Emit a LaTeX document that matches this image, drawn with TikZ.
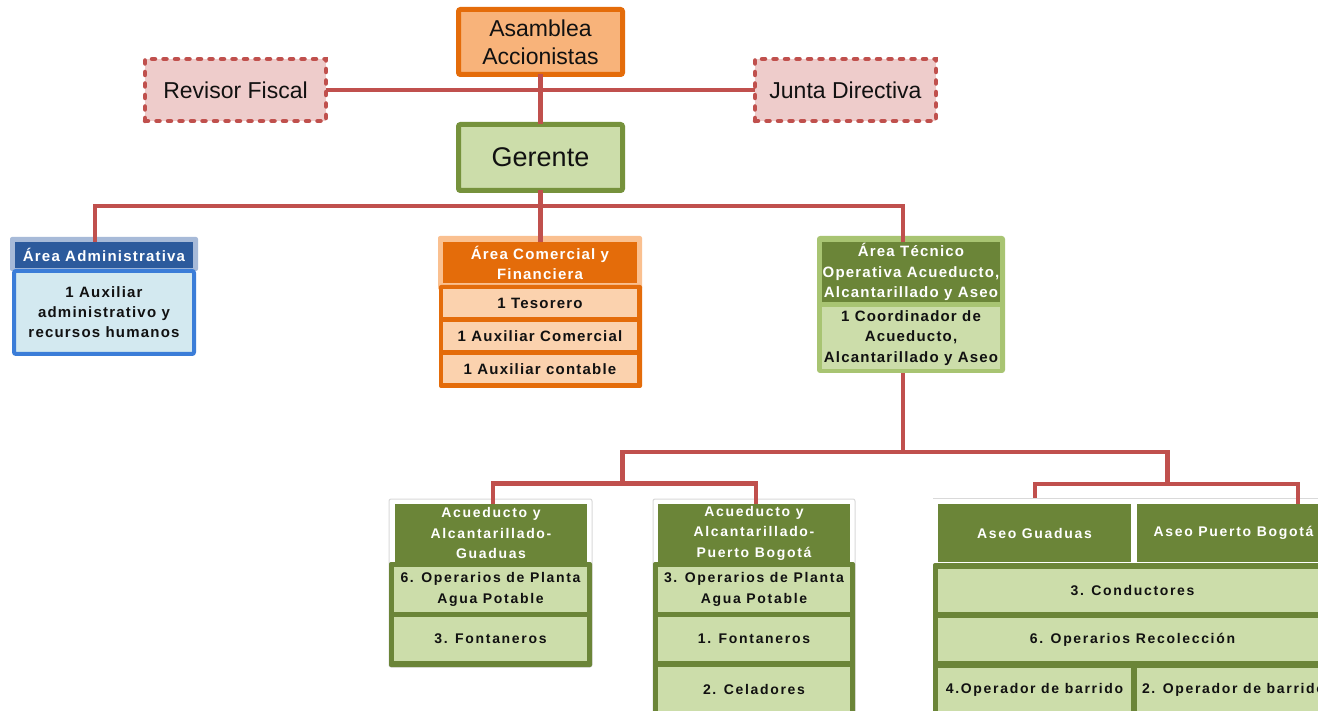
\documentclass[tikz,border=0pt]{standalone}
\usepackage{fontspec}
\setmainfont{Liberation Sans}
\newfontfamily\lsA{Liberation Sans}[LetterSpace=8]
\newfontfamily\lsB{Liberation Sans}[LetterSpace=12]
\definecolor{redln}{HTML}{C0504D}
\definecolor{orgD}{HTML}{E46C0A}
\definecolor{orgF}{HTML}{F8B37A}
\definecolor{orgL}{HTML}{FAC090}
\definecolor{orgC}{HTML}{FBD2AE}
\definecolor{pinkF}{HTML}{EECCCB}
\definecolor{grnD}{HTML}{6B8538}
\definecolor{grnB}{HTML}{76923C}
\definecolor{grnF}{HTML}{CCDDAA}
\definecolor{grnL}{HTML}{A8C472}
\definecolor{bluH}{HTML}{2C5A9C}
\definecolor{bluL}{HTML}{A7BAD8}
\definecolor{bluB}{HTML}{3B7DD8}
\definecolor{bluF}{HTML}{D3E9F0}
\definecolor{grayF}{HTML}{D9D9D9}
\definecolor{txt}{HTML}{111111}
\tikzset{
  bx/.style={inner sep=0pt, outer sep=0pt, align=center, text=txt},
  toptxt/.style={bx, font=\fontsize{23}{28}\selectfont},
  midtxt/.style={bx, font=\lsA\bfseries\fontsize{15}{20}\selectfont},
  midhdr/.style={midtxt, text=white},
  lowtxt/.style={bx, font=\lsB\bfseries\fontsize{14}{20.5}\selectfont},
  lowhdr/.style={lowtxt, text=white},
  redline/.style={draw=redln, line width=4.5pt, line join=miter},
  dotbox/.style={toptxt, draw=redln, fill=pinkF, line width=4.5pt, dash pattern=on 3pt off 8.5pt, line cap=round, minimum width=181, minimum height=62},
  solbox/.style={toptxt, line width=5pt, rounded corners=2pt, minimum width=164},
  gcell/.style={lowtxt, fill=grnF},
  ocell/.style={midtxt, fill=orgC, minimum width=194, minimum height=28},
}
\begin{document}
\begin{tikzpicture}[x=1pt,y=-1pt]
\useasboundingbox (0,0) rectangle (1318,711);
\clip (0,0) rectangle (1318,711);
\fill[white] (0,0) rectangle (1318,711);

% ---------- top level ----------
\node[solbox, draw=orgD, fill=orgF, minimum height=65] (asam) at (540.5,42) {Asamblea\\Accionistas};
\node[solbox, draw=grnB, fill=grnF, minimum height=66, font=\fontsize{27}{30}\selectfont] (ger) at (540.5,157.5) {Gerente};
\node[dotbox] (rev) at (235.5,90) {Revisor Fiscal};
\node[dotbox] (jun) at (845.5,90) {Junta Directiva};

% ---------- Area Administrativa ----------
\fill[bluL, rounded corners=2pt] (10,237) rectangle (198,271);
\node[midhdr, fill=bluH, minimum width=178, minimum height=26] (adh) at (104,255) {Área Administrativa};
\node[midtxt, draw=bluB, fill=bluF, line width=4pt, rounded corners=2pt, minimum width=180, minimum height=83] (adb) at (104,312.5) {1 Auxiliar\\administrativo y\\recursos humanos};

% ---------- Area Comercial ----------
\fill[orgL, rounded corners=2pt] (438,236) rectangle (642,290);
\node[midhdr, fill=orgD, minimum width=194, minimum height=41] (cmh) at (540,262.5) {Área Comercial y\\Financiera};
\fill[orgD, rounded corners=2pt] (439,285) rectangle (642,388);
\node[ocell] (cm1) at (540,303) {1 Tesorero};
\node[ocell] (cm2) at (540,336) {1 Auxiliar Comercial};
\node[ocell] (cm3) at (540,369) {1 Auxiliar contable};

% ---------- Area Tecnica ----------
\fill[grnL, rounded corners=3pt] (817,236) rectangle (1005,373);
\node[midhdr, fill=grnD, minimum width=178, minimum height=60, font=\lsA\bfseries\fontsize{15}{20.5}\selectfont] (tch) at (911,272) {Área Técnico\\Operativa Acueducto,\\Alcantarillado y Aseo};
\node[midtxt, fill=grnF, minimum width=178, minimum height=62, font=\lsA\bfseries\fontsize{15}{20.5}\selectfont] (tcb) at (911,338) {1 Coordinador de\\Acueducto,\\Alcantarillado y Aseo};

% ---------- Acueducto Guaduas ----------
\draw[grayF, fill=white, line width=1pt, rounded corners=2pt] (389,499) rectangle (592,667);
\node[lowhdr, fill=grnD, minimum width=192, minimum height=58] (agh) at (491,533) {Acueducto y\\Alcantarillado-\\Guaduas};
\fill[grnD, rounded corners=2pt] (389,562) rectangle (592,667);
\node[gcell, minimum width=193, minimum height=45] (ag1) at (490.5,589.5) {6. Operarios de Planta\\Agua Potable};
\node[gcell, minimum width=193, minimum height=44] (ag2) at (490.5,639) {3. Fontaneros};

% ---------- Acueducto Puerto Bogota ----------
\draw[grayF, fill=white, line width=1pt, rounded corners=2pt] (653,499) rectangle (855,720);
\node[lowhdr, fill=grnD, minimum width=192, minimum height=58] (apb) at (754,533) {Acueducto y\\Alcantarillado-\\Puerto Bogotá};
\fill[grnD, rounded corners=2pt] (653,562) rectangle (855,720);
\node[gcell, minimum width=192, minimum height=45] (ap1) at (754,589.5) {3. Operarios de Planta\\Agua Potable};
\node[gcell, minimum width=192, minimum height=44] (ap2) at (754,639) {1. Fontaneros};
\node[gcell, minimum width=192, minimum height=44] (ap3) at (754,689) {2. Celadores};

% ---------- Aseo ----------
\coordinate (asTop) at (933,498);
\draw[grayF, line width=1pt] (asTop) -- (1318,498);
\node[lowhdr, fill=grnD, minimum width=193, minimum height=58] (asg) at (1034.5,533) {Aseo Guaduas};
\node[lowhdr, fill=grnD, minimum width=193, minimum height=58] (asp) at (1233.5,533) {Aseo Puerto Bogotá};
\fill[grnD, rounded corners=2pt] (933,563) rectangle (1340,720);
\node[gcell, minimum width=389, minimum height=43] (as1) at (1132.5,590.5) {3. Conductores};
\node[gcell, minimum width=389, minimum height=43] (as2) at (1132.5,639.5) {6. Operarios Recolección};
\node[gcell, minimum width=193, minimum height=44] (as3) at (1034.5,690) {4.Operador de barrido};
\node[gcell, minimum width=193, minimum height=44] (as4) at (1233.5,690) {2. Operador de barrido};

% ---------- connectors ----------
\draw[redline] (rev.east) -- (jun.west);
\draw[redline] (asam.south) -- (ger.north);
\coordinate (dA) at (95,206);
\coordinate (dM) at (540.5,206);
\coordinate (dT) at (903,206);
\draw[redline] (ger.south) -- (dM) -- (dM |- cmh.north);
\draw[redline] (dA |- adh.north) -- (dA) -- (dT) -- (dT |- tch.north);
\coordinate (t3) at (903,452);
\coordinate (a1) at (622.5,452);
\coordinate (a2) at (1167.5,452);
\coordinate (bL) at (493,483.5);
\coordinate (bR) at (756,483.5);
\coordinate (cL) at (1035,484);
\coordinate (cR) at (1298,484);
\draw[redline] (t3 |- tcb.south) ++(0,4) -- (t3);
\draw[redline] (a1 |- bL) -- (a1) -- (a2) -- (a2 |- cL);
\draw[redline] (bL |- agh.north) -- (bL) -- (bR) -- (bR |- apb.north);
\draw[redline] (cL |- asTop) -- (cL) -- (cR) -- (cR |- asp.north);
\end{tikzpicture}
\end{document}
